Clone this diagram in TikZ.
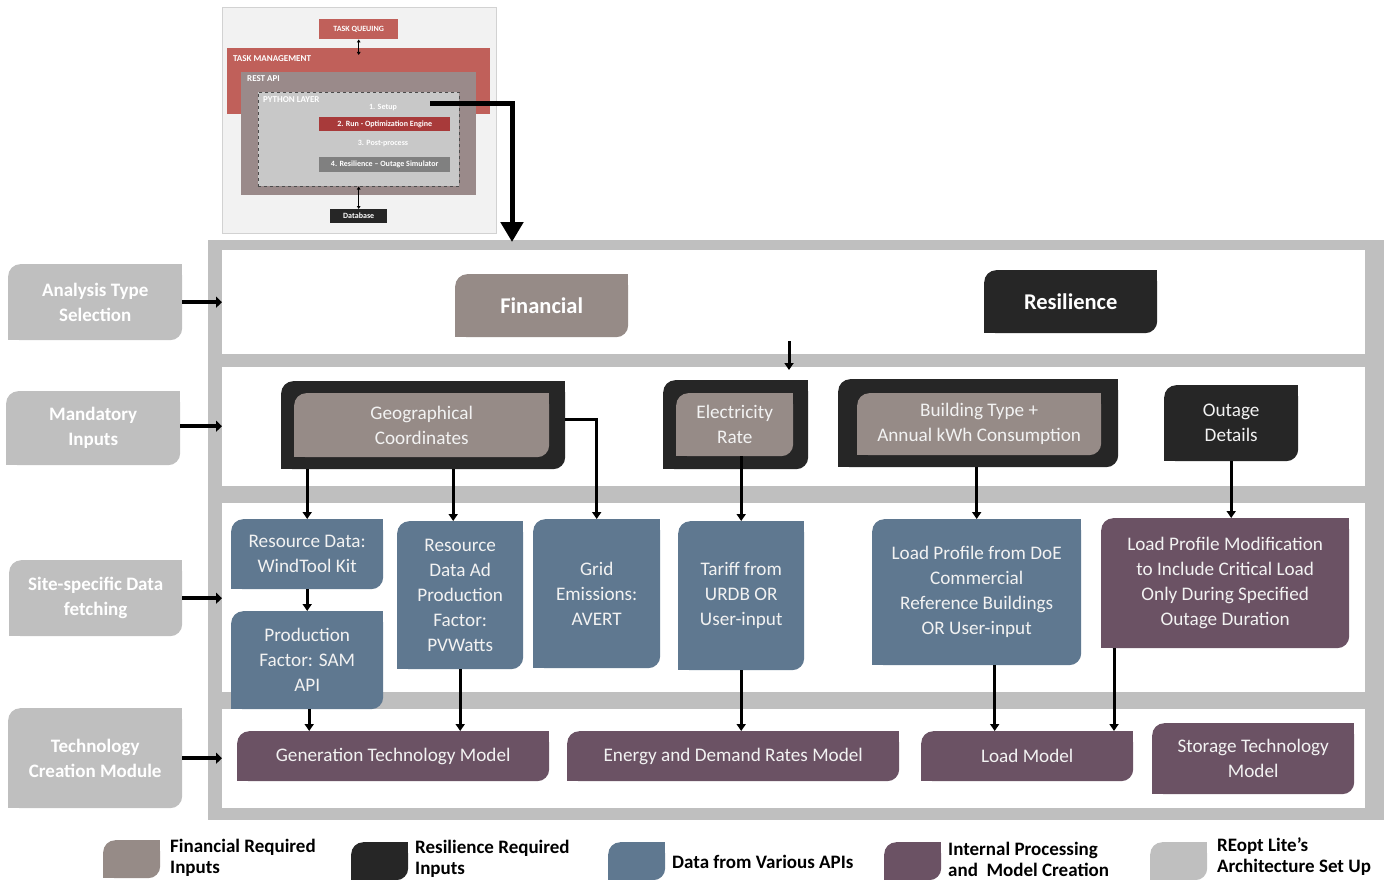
\documentclass[tikz,border=0pt]{standalone}
\usepackage{fontspec}
\setmainfont{Carlito}
\usetikzlibrary{arrows.meta,calc}
\definecolor{fin}{RGB}{150,139,135}
\definecolor{resc}{RGB}{38,38,38}
\definecolor{api}{RGB}{95,120,144}
\definecolor{purp}{RGB}{107,82,100}
\definecolor{arch}{RGB}{191,191,191}
\definecolor{tq}{RGB}{192,96,90}
\definecolor{restapi}{RGB}{154,138,138}
\definecolor{pyl}{RGB}{200,200,200}
\definecolor{runc}{RGB}{168,58,58}
\definecolor{simc}{RGB}{128,128,128}
\definecolor{txtw}{RGB}{242,242,242}
\definecolor{insetbg}{RGB}{242,242,242}
\tikzset{
  box/.style 2 args={anchor=north west, inner sep=0pt, minimum width=#1, minimum height=#2, align=center},
  dbox/.style={path picture={
     \fill[#1,rounded corners=12pt] (path picture bounding box.south west) rectangle (path picture bounding box.north east);
     \fill[#1] ([xshift=-14pt,yshift=-14pt]path picture bounding box.north east) rectangle (path picture bounding box.north east);
     \fill[#1] (path picture bounding box.south west) rectangle ([xshift=14pt,yshift=14pt]path picture bounding box.south west);
  }},
  lab/.style={dbox=arch, text=white, font=\fontsize{19}{25}\selectfont\bfseries},
  big/.style={text=white, font=\fontsize{22.5}{26}\selectfont\bfseries},
  mtxt/.style={text=txtw, font=\fontsize{19.2}{25}\selectfont},
  legtxt/.style={anchor=west, align=left, inner sep=0pt, text=black, font=\fontsize{19}{21}\selectfont\bfseries},
  itxt/.style={text=white, font=\fontsize{8}{9}\selectfont\bfseries},
  ihead/.style={text=white, font=\fontsize{9}{10}\selectfont\bfseries, anchor=north west, inner sep=0pt},
  arr/.style={-{Triangle[width=9pt,length=7pt]}, line width=3pt},
  larr/.style={-{Triangle[width=11pt,length=6pt]}, line width=4.5pt},
  barr/.style={-{Triangle[width=22pt,length=20pt]}, line width=5pt},
  darr/.style={{Triangle[width=3.5pt,length=3pt]}-{Triangle[width=3.5pt,length=3pt]}, line width=0.8pt},
}
\begin{document}
\begin{tikzpicture}[x=1pt,y=-1pt]
\useasboundingbox (0,0) rectangle (1386,880);

% ---------- inset ----------
\node[box={274pt}{226pt}, fill=insetbg, draw=gray!35] (inset) at (222,7) {};
\node[box={263pt}{66pt}, fill=tq] (tm) at (227,48) {};
\node[ihead] (tmt) at (233,55) {TASK MANAGEMENT};
\node[box={79pt}{20pt}, fill=tq, itxt] (tq) at (319,19) {TASK QUEUING};
\node[box={235pt}{123pt}, fill=restapi] (rest) at (241,72) {};
\node[ihead] (restt) at (247,75) {REST API};
\node[box={201pt}{94pt}, fill=pyl, draw=black!70, dashed, line width=0.5pt] (py) at (258,92) {};
\node[ihead] (pyt) at (263,96) {PYTHON LAYER};
\node[itxt] (setup) at (383,108) {1. Setup};
\node[box={131pt}{14pt}, fill=runc, itxt] (run) at (319,117) {2. Run - Optimization Engine};
\node[itxt] (post) at (383,144) {3. Post-process};
\node[box={131pt}{15pt}, fill=simc, itxt] (sim) at (319,157) {4. Resilience -- Outage Simulator};
\node[box={57pt}{14pt}, fill=resc, itxt] (db) at (330,209) {Database};
\draw[darr] (tq.south) -- ([yshift=-7pt]tq.south |- tm.north);
\draw[darr] (py.south -| db.north) -- (db.north);

% ---------- main frame ----------
\node[box={1176pt}{580pt}, fill=arch] (frame) at (208,240) {};
\node[box={1143pt}{104pt}, fill=white] (row1) at (222,250) {};
\node[box={1143pt}{119pt}, fill=white] (row2) at (222,367) {};
\node[box={1143pt}{189pt}, fill=white] (row3) at (222,503) {};
\node[box={1143pt}{99pt}, fill=white] (row4) at (222,709) {};

% ---------- left labels ----------
\node[lab, box={174pt}{76pt}] (l1) at (8,264) {Analysis Type\\Selection};
\node[lab, box={174pt}{74pt}] (l2) at (6,391) {Mandatory\\Inputs};
\node[lab, box={173pt}{76pt}] (l3) at (9,560) {Site-specific Data\\fetching};
\node[lab, box={174pt}{100pt}] (l4) at (8,708) {Technology\\Creation Module};
\draw[larr] (l1.east) -- (l1.east -| row1.west);
\draw[larr] ([yshift=2pt]l2.east) -- ([yshift=2pt]l2.east -| row2.west);
\draw[larr] (l3.east) -- (l3.east -| row3.west);
\draw[larr] (l4.east) -- (l4.east -| row4.west);

% ---------- row 1 ----------
\node[dbox=fin, box={173pt}{63pt}, big] (finb) at (455,274) {Financial};
\node[dbox=resc, box={173pt}{63pt}, big] (resb) at (984,270) {Resilience};

% ---------- row 2 ----------
\node[dbox=resc, box={284pt}{88pt}] (geoF) at (281,381) {};
\node[dbox=fin, box={255pt}{64pt}, mtxt] (geo) at (294,393) {Geographical\\Coordinates};
\node[dbox=resc, box={145pt}{89pt}] (elecF) at (663,380) {};
\node[dbox=fin, box={117pt}{63pt}, mtxt] (elec) at (676,393) {Electricity\\Rate};
\node[dbox=resc, box={280pt}{88pt}] (bldF) at (838,379) {};
\node[dbox=fin, box={244pt}{62pt}, mtxt] (bld) at (857,393) {Building Type +\\Annual kWh Consumption};
\node[dbox=resc, box={134pt}{76pt}, mtxt] (outage) at (1164,385) {Outage\\Details};

% ---------- row 3 ----------
\node[dbox=api, box={152pt}{70pt}, mtxt] (res) at (231,519) {Resource Data:\\WindTool Kit};
\node[dbox=api, box={152pt}{98pt}, mtxt] (prod) at (231,611) {Production\\Factor: SAM\\API};
\node[dbox=api, box={126pt}{148pt}, mtxt] (pv) at (397,521) {Resource\\Data Ad\\Production\\Factor:\\PVWatts};
\node[dbox=api, box={127pt}{149pt}, mtxt] (grid) at (533,519) {Grid\\Emissions:\\AVERT};
\node[dbox=api, box={126pt}{149pt}, mtxt] (tariff) at (678,521) {Tariff from\\URDB OR\\User-input};
\node[dbox=api, box={209pt}{146pt}, mtxt] (lp) at (872,519) {Load Profile from DoE\\Commercial\\Reference Buildings\\OR User-input};
\node[dbox=purp, box={248pt}{130pt}, mtxt] (lpm) at (1101,518) {Load Profile Modification\\to Include Critical Load\\Only During Specified\\Outage Duration};

% ---------- row 4 ----------
\node[dbox=purp, box={312pt}{50pt}, mtxt] (gen) at (237,731) {Generation Technology Model};
\node[dbox=purp, box={332pt}{50pt}, mtxt] (energy) at (567,731) {Energy and Demand Rates Model};
\node[dbox=purp, box={212pt}{50pt}, mtxt] (load) at (921,731) {Load Model};
\node[dbox=purp, box={202pt}{71pt}, mtxt] (stor) at (1152,723) {Storage Technology\\Model};

% ---------- connectors ----------
\coordinate (sa) at (789,341);
\draw[arr] (sa) -- ([yshift=-3pt]sa |- row2.north);
\draw[arr] (res.north |- geoF.south) -- (res.north);
\draw[arr] ([xshift=-7pt]pv.north |- geoF.south) -- ([xshift=-7pt]pv.north);
\draw[arr] ([yshift=6pt]geoF.east) -| (grid.north);
\draw[arr] (tariff.north |- elec.south) -- (tariff.north);
\draw[arr] (lp.north |- bldF.south) -- (lp.north);
\draw[arr] (outage.south) -- (outage.south |- lpm.north);
\draw[arr] (res.south) -- (prod.north);
\draw[arr] ([xshift=2pt]prod.south) -- ([xshift=2pt]prod.south |- gen.north);
\draw[arr] (pv.south) -- (pv.south |- gen.north);
\draw[arr] (tariff.south) -- (tariff.south |- energy.north);
\draw[arr] ([xshift=18pt]lp.south) -- ([xshift=18pt]lp.south |- load.north);
\draw[arr] ([xshift=13pt]lpm.south west) -- ([xshift=13pt]lpm.south west |- load.north);

% ---------- inset arrow ----------
\coordinate (ia) at (430,104);
\coordinate (ib) at (512,242);
\draw[barr] (ia) -| (ib);

% ---------- legend ----------
\node[dbox=fin, box={57pt}{38pt}] (sw1) at (103,840) {};
\node[legtxt] (t1) at (170,858) {Financial Required\\Inputs};
\node[dbox=resc, box={57pt}{38pt}] (sw2) at (351,842) {};
\node[legtxt] (t2) at (415,859) {Resilience Required\\Inputs};
\node[dbox=api, box={57pt}{38pt}] (sw3) at (608,842) {};
\node[legtxt] (t3) at (672,862) {Data from Various APIs};
\node[dbox=purp, box={57pt}{38pt}] (sw4) at (884,842) {};
\node[legtxt] (t4) at (948,859) {Internal Processing\\and\ \ Model Creation};
\node[dbox=arch, box={57pt}{38pt}] (sw5) at (1150,842) {};
\node[legtxt] (t5) at (1217,857) {REopt Lite’s\\Architecture Set Up};
\end{tikzpicture}
\end{document}
